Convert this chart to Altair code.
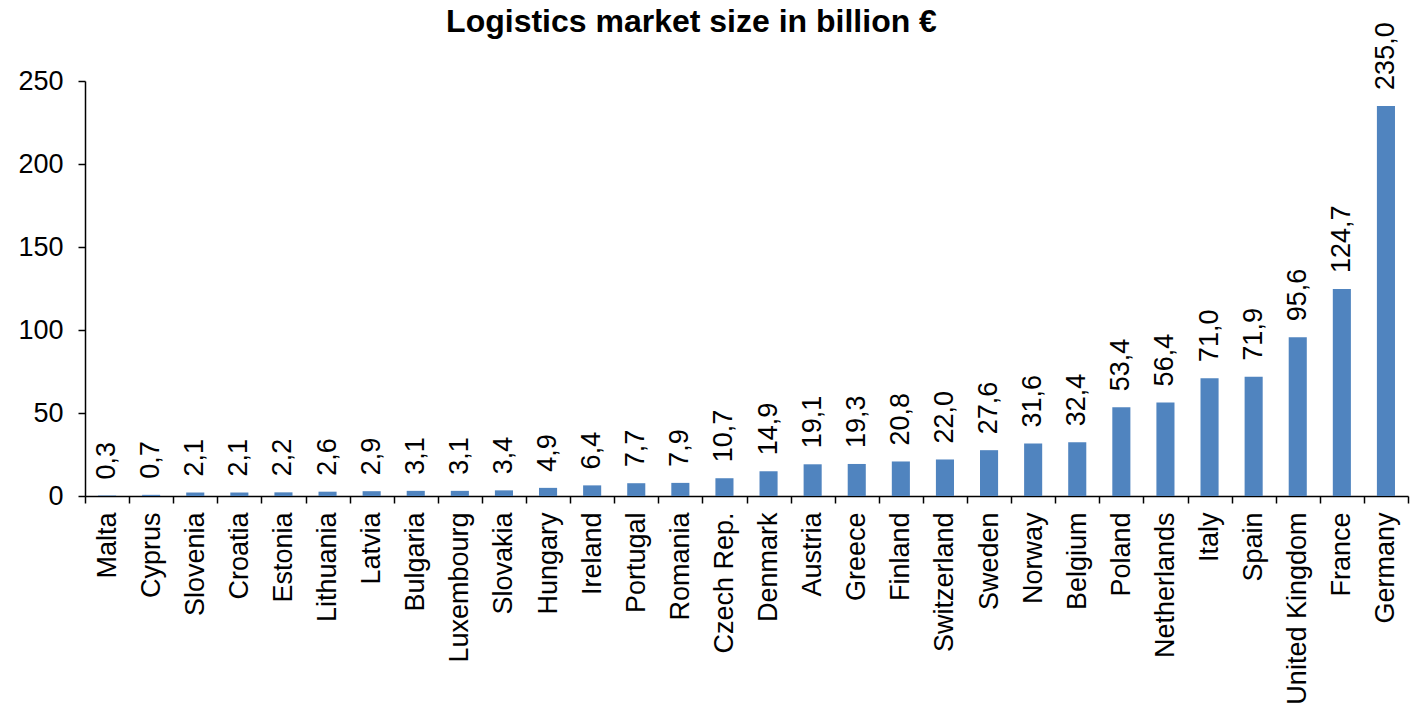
import altair as alt
import pandas as pd

countries = ["Malta", "Cyprus", "Slovenia", "Croatia", "Estonia", "Lithuania", "Latvia",
             "Bulgaria", "Luxembourg", "Slovakia", "Hungary", "Ireland", "Portugal", "Romania",
             "Czech Rep.", "Denmark", "Austria", "Greece", "Finland", "Switzerland", "Sweden",
             "Norway", "Belgium", "Poland", "Netherlands", "Italy", "Spain", "United Kingdom",
             "France", "Germany"]
values = [0.3, 0.7, 2.1, 2.1, 2.2, 2.6, 2.9, 3.1, 3.1, 3.4, 4.9, 6.4, 7.7, 7.9, 10.7, 14.9,
          19.1, 19.3, 20.8, 22.0, 27.6, 31.6, 32.4, 53.4, 56.4, 71.0, 71.9, 95.6, 124.7, 235.0]
y_ticks = [0, 50, 100, 150, 200, 250]

df = pd.DataFrame({"country": countries, "value": values})

FONT = "Liberation Sans"
x_enc = alt.X("country:N", sort=countries,
              scale=alt.Scale(paddingInner=0, paddingOuter=0),
              axis=alt.Axis(title=None, labelAngle=270, labelAlign="right", labelBaseline="middle",
                            labelFontSize=27, labelFont=FONT, labelColor="black", labelPadding=9,
                            labelLimit=400,
                            tickBand="extent", tickSize=7, tickWidth=1.5, tickColor="black",
                            domainColor="black", domainWidth=1.5, labelOverlap=False))
y_enc = alt.Y("value:Q", scale=alt.Scale(domain=[0, 250], nice=False),
              axis=alt.Axis(title=None, values=y_ticks, grid=False, labelFontSize=27,
                            labelFont=FONT, labelColor="black", labelPadding=15,
                            tickSize=7, tickWidth=1.5, tickColor="black",
                            domainColor="black", domainWidth=1.5))

bars = alt.Chart(df).mark_bar(color="#5084BF", width=alt.RelativeBandSize(0.41)).encode(
    x=x_enc, y=y_enc)

labels = alt.Chart(df).transform_calculate(
    lab="replace(format(datum.value, '.1f'), '.', ',')"
).mark_text(angle=270, align="left", baseline="middle", dx=16, fontSize=27,
            font=FONT, color="black").encode(
    x=alt.X("country:N", sort=countries), y=alt.Y("value:Q"), text="lab:N")

chart = alt.layer(bars, labels).properties(
    width=1323, height=415,
    background="white",
    title=alt.TitleParams("Logistics market size in billion €", fontSize=32, font=FONT,
                          fontWeight="bold", color="black", anchor="middle", frame="group",
                          dx=-55, baseline="alphabetic", offset=-42),
    autosize=alt.AutoSizeParams(type="none"),
    padding={"left": 85, "top": 81, "right": 10, "bottom": 210},
).configure_view(stroke=None)

chart.save("out.html", embed_options={"renderer": "svg", "actions": False})
